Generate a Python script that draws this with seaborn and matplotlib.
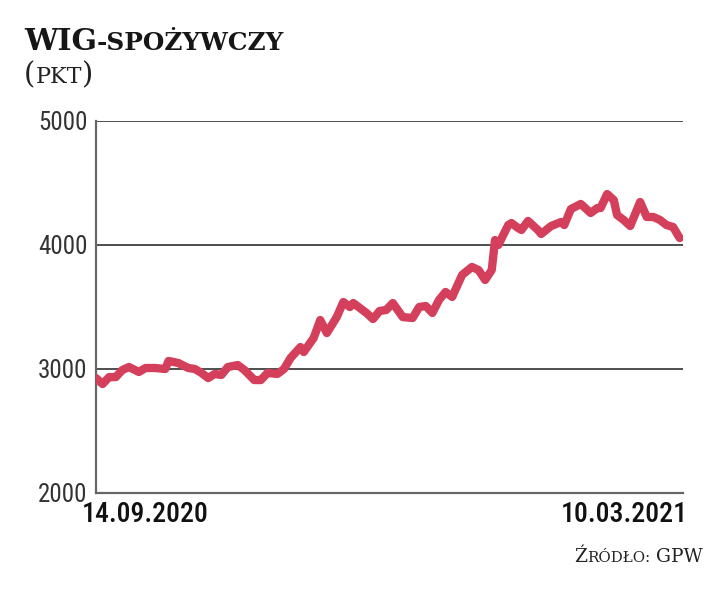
import pandas as pd
import numpy as np
import matplotlib.pyplot as plt
import matplotlib.dates as mdates
import seaborn as sns
from matplotlib import font_manager

# WIG-spożywczy, daily close
dates = ['2020-09-14', '2020-09-16', '2020-09-18', '2020-09-20', '2020-09-22', '2020-09-24',
         '2020-09-27', '2020-09-29', '2020-10-02', '2020-10-05', '2020-10-06', '2020-10-09',
         '2020-10-12', '2020-10-14', '2020-10-16', '2020-10-18', '2020-10-20', '2020-10-22',
         '2020-10-24', '2020-10-27', '2020-10-29', '2020-11-01', '2020-11-03', '2020-11-05',
         '2020-11-08', '2020-11-10', '2020-11-12', '2020-11-15', '2020-11-16', '2020-11-19',
         '2020-11-21', '2020-11-23', '2020-11-26', '2020-11-28', '2020-11-30', '2020-12-01',
         '2020-12-05', '2020-12-07', '2020-12-09', '2020-12-11', '2020-12-13', '2020-12-16',
         '2020-12-19', '2020-12-21', '2020-12-23', '2020-12-25', '2020-12-27', '2020-12-29',
         '2020-12-31', '2021-01-03', '2021-01-06', '2021-01-08', '2021-01-10', '2021-01-12',
         '2021-01-13', '2021-01-14', '2021-01-17', '2021-01-18', '2021-01-20', '2021-01-21',
         '2021-01-23', '2021-01-26', '2021-01-27', '2021-01-30', '2021-02-02', '2021-02-03',
         '2021-02-05', '2021-02-08', '2021-02-11', '2021-02-13', '2021-02-14', '2021-02-16',
         '2021-02-18', '2021-02-19', '2021-02-21', '2021-02-23', '2021-02-26', '2021-02-28',
         '2021-03-02', '2021-03-04', '2021-03-06', '2021-03-08', '2021-03-10']
values = [2927, 2879, 2935, 2935, 2992, 3016,
          2976, 3008, 3008, 3000, 3065, 3048,
          3008, 3000, 2968, 2927, 2960, 2952,
          3016, 3032, 2992, 2911, 2911, 2968,
          2960, 3000, 3089, 3177, 3137, 3250,
          3395, 3290, 3419, 3540, 3500, 3532,
          3452, 3403, 3468, 3476, 3532, 3419,
          3411, 3500, 3508, 3452, 3556, 3621,
          3581, 3758, 3823, 3798, 3718, 3798,
          4040, 4000, 4161, 4177, 4137, 4121,
          4194, 4121, 4089, 4153, 4185, 4161,
          4290, 4331, 4258, 4298, 4298, 4411,
          4363, 4242, 4202, 4153, 4347, 4226,
          4226, 4202, 4161, 4145, 4056]

yticks = [2000, 3000, 4000, 5000]
gridlines = [3000, 4000, 5000]
date_labels = ['14.09.2020', '10.03.2021']

W, H = 725, 593

df = pd.DataFrame({'data': pd.to_datetime(dates), 'wig': values})

sns.set_style('white')

available = {f.name for f in font_manager.fontManager.ttflist}
cond = next((f for f in ['Roboto Condensed', 'Liberation Sans Narrow', 'DejaVu Sans Condensed']
             if f in available), 'Roboto')
serif = 'DejaVu Serif'

fig = plt.figure(figsize=(W / 100, H / 100), dpi=100)
ax = fig.add_axes([96 / W, 1 - 493 / H, (683 - 96) / W, (493 - 121) / H])

for v in gridlines:
    ax.axhline(v, color='#1e1e1e', lw=1.1, zorder=1)

sns.lineplot(data=df, x='data', y='wig', ax=ax, color='#d43f5c', linewidth=6,
             solid_capstyle='round', solid_joinstyle='round', zorder=3)

ax.set_ylim(2000, 5000)
ax.set_yticks(yticks)
ax.set_yticklabels([str(t) for t in yticks], fontsize=18, family=cond, color='#333333')
ax.set_xlim(df['data'].iloc[0], df['data'].iloc[-1] + pd.Timedelta(days=1))
ax.set_xticks([])
ax.set_xlabel('')
ax.set_ylabel('')
ax.tick_params(axis='y', length=0, pad=6)

for s in ['top', 'right']:
    ax.spines[s].set_visible(False)
for s in ['left', 'bottom']:
    ax.spines[s].set_color('#666666')
    ax.spines[s].set_linewidth(1.6)

# start / end dates under the axis
ends = mdates.date2num([df['data'].iloc[0], df['data'].iloc[-1]])
ax.annotate(date_labels[0], xy=(ends[0], 0), xycoords=ax.get_xaxis_transform(),
            xytext=(-10, -6), textcoords='offset points', ha='left', va='top',
            fontsize=20, family=cond, fontweight='medium', color='#111111')
ax.annotate(date_labels[1], xy=(ends[1], 0), xycoords=ax.get_xaxis_transform(),
            xytext=(6, -6), textcoords='offset points', ha='right', va='top',
            fontsize=20, family=cond, fontweight='medium', color='#111111')

# small-caps texts built from pieces
renderer = fig.canvas.get_renderer()


def chain(x, y, parts, color, ha='left'):
    texts = []
    cx = x
    for s, size, weight in parts:
        t = fig.text(cx / W, 1 - y / H, s, fontsize=size, fontweight=weight,
                     family=serif, color=color, va='baseline', ha='left')
        cx += t.get_window_extent(renderer).width
        texts.append(t)
    if ha == 'right':
        shift = (cx - x) / W
        for t in texts:
            px, py = t.get_position()
            t.set_position((px - shift, py))


chain(24, 50, [('WIG', 21.5, 'bold'), ('-SPOŻYWCZY', 17.8, 'bold')], '#161616')
chain(24, 83, [('(', 21, 'normal'), ('PKT', 16, 'normal'), (')', 21, 'normal')], '#222222')
chain(703, 562, [('Ź', 13.5, 'normal'), ('RÓDŁO:', 10.8, 'normal'), (' GPW', 13.5, 'normal')],
      '#222222', ha='right')

fig.savefig('out.png', dpi=100)
